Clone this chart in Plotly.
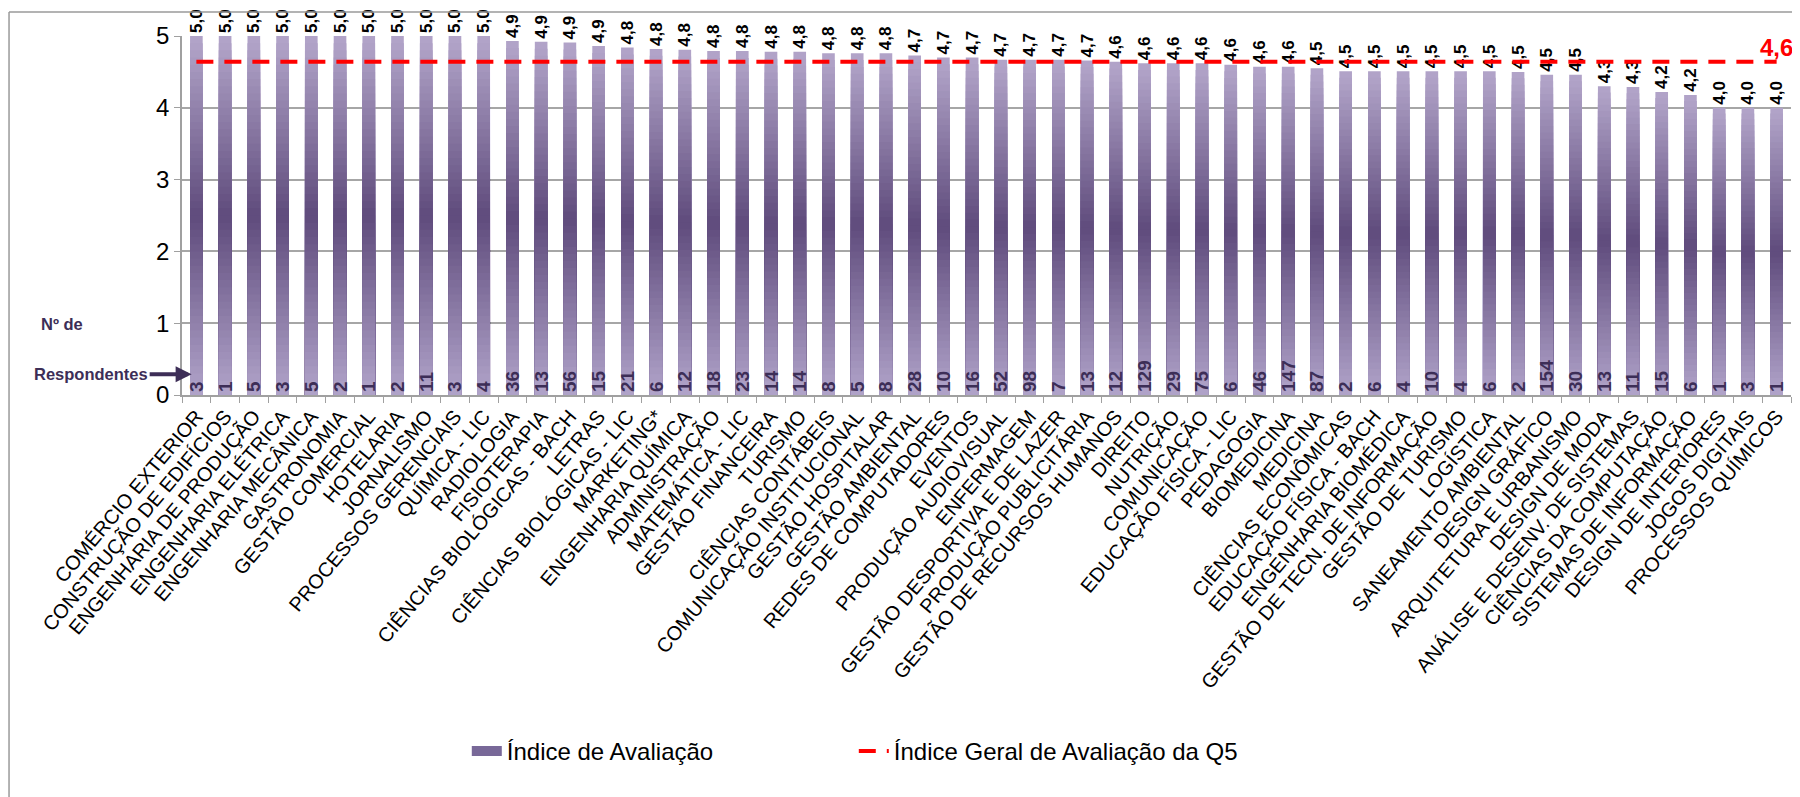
import plotly.graph_objects as go

categories = [
    "COMÉRCIO EXTERIOR", "CONSTRUÇÃO DE EDIFÍCIOS", "ENGENHARIA DE PRODUÇÃO", "ENGENHARIA ELÉTRICA",
    "ENGENHARIA MECÂNICA", "GASTRONOMIA", "GESTÃO COMERCIAL", "HOTELARIA", "JORNALISMO",
    "PROCESSOS GERENCIAIS", "QUÍMICA - LIC", "RADIOLOGIA", "FISIOTERAPIA", "CIÊNCIAS BIOLÓGICAS - BACH",
    "LETRAS", "CIÊNCIAS BIOLÓGICAS - LIC", "MARKETING*", "ENGENHARIA QUÍMICA", "ADMINISTRAÇÃO",
    "MATEMÁTICA - LIC", "GESTÃO FINANCEIRA", "TURISMO", "CIÊNCIAS CONTÁBEIS", "COMUNICAÇÃO INSTITUCIONAL",
    "GESTÃO HOSPITALAR", "GESTÃO AMBIENTAL", "REDES DE COMPUTADORES", "EVENTOS", "PRODUÇÃO AUDIOVISUAL",
    "ENFERMAGEM", "GESTÃO DESPORTIVA E DE LAZER", "PRODUÇÃO PUBLICITÁRIA", "GESTÃO DE RECURSOS HUMANOS",
    "DIREITO", "NUTRIÇÃO", "COMUNICAÇÃO", "EDUCAÇÃO FÍSICA - LIC", "PEDAGOGIA", "BIOMEDICINA",
    "MEDICINA", "CIÊNCIAS ECONÔMICAS", "EDUCAÇÃO FÍSICA - BACH", "ENGENHARIA BIOMÉDICA",
    "GESTÃO DE TECN. DE INFORMAÇÃO", "GESTÃO DE TURISMO", "LOGÍSTICA", "SANEAMENTO AMBIENTAL",
    "DESIGN GRÁFICO", "ARQUITETURA E URBANISMO", "DESIGN DE MODA", "ANÁLISE E DESENV. DE SISTEMAS",
    "CIÊNCIAS DA COMPUTAÇÃO", "SISTEMAS DE INFORMAÇÃO", "DESIGN DE INTERIORES", "JOGOS DIGITAIS",
    "PROCESSOS QUÍMICOS",
]

indice = [
    5.0, 5.0, 5.0, 5.0, 5.0, 5.0, 5.0, 5.0, 5.0, 5.0, 5.0,
    4.93, 4.92, 4.91, 4.86,
    4.84, 4.82, 4.81, 4.79, 4.79, 4.78, 4.78, 4.76, 4.76, 4.76,
    4.73, 4.70, 4.70, 4.67, 4.67, 4.67, 4.66,
    4.64, 4.62, 4.62, 4.62, 4.60, 4.57, 4.57,
    4.55, 4.51, 4.51, 4.51, 4.51, 4.51, 4.51, 4.50, 4.46, 4.46,
    4.30, 4.29, 4.22, 4.18, 4.0, 4.0, 4.0,
]

respondentes = [
    3, 1, 5, 3, 5, 2, 1, 2, 11, 3, 4, 36, 13, 56, 15,
    21, 6, 12, 18, 23, 14, 14, 8, 5, 8, 28, 10, 16, 52, 98, 7, 13, 12, 129, 29, 75,
    6, 46, 147, 87, 2, 6, 4, 10, 4, 6, 2, 154, 30, 13, 11, 15, 6, 1, 3, 1,
]

indice_geral = 4.64

FONT = "Liberation Sans, Arial, sans-serif"
TOP = (180, 167, 203)
MID = (95, 75, 124)
BOT = (177, 164, 202)


def grad(f):
    if f >= 0.5:
        t = (f - 0.5) / 0.5
        a, b = MID, TOP
    else:
        t = f / 0.5
        a, b = BOT, MID
    c = [round(a[i] + (b[i] - a[i]) * t) for i in range(3)]
    return f"rgb({c[0]},{c[1]},{c[2]})"


def fmt(v):
    return f"{v:.1f}".replace(".", ",")


fig = go.Figure()
N = 50
BW = 0.44

fig.add_trace(go.Bar(
    x=categories, y=indice, width=BW, name="Índice de Avaliação",
    marker=dict(color=grad(0.98), line=dict(width=0)),
    text=[fmt(v) for v in indice], textposition="outside", textangle=-90,
    textfont=dict(family=FONT, size=17, color="black", weight="bold"),
    constraintext="none", cliponaxis=False, hoverinfo="skip", showlegend=False,
))
for k in range(N - 1, 0, -1):
    frac = k / N
    fig.add_trace(go.Bar(
        x=categories, y=[v * frac for v in indice], width=BW,
        marker=dict(color=grad((k - 0.5) / N), line=dict(width=0)),
        hoverinfo="skip", showlegend=False,
    ))

fig.add_trace(go.Bar(
    x=categories, y=indice, width=BW, marker=dict(color="rgba(0,0,0,0)", line=dict(width=0)),
    text=[str(r) for r in respondentes], textposition="inside", insidetextanchor="start",
    textangle=-90, constraintext="none",
    textfont=dict(family=FONT, size=19, color="#3d2e57", weight="bold"),
    showlegend=False, hoverinfo="skip",
))

# legend swatch for bars (wide band like the reference)
fig.add_trace(go.Scatter(
    x=[None], y=[None], mode="lines", name="Índice de Avaliação",
    line=dict(color="rgb(120,104,152)", width=16), showlegend=True, hoverinfo="skip",
))

avg_text = [""] * (len(categories) - 1) + [fmt(indice_geral)]
fig.add_trace(go.Scatter(
    x=categories, y=[indice_geral] * len(categories), mode="lines+text",
    line=dict(color="#ff0000", width=4, dash="17px,11px"),
    text=avg_text, textposition="top center",
    textfont=dict(family=FONT, size=24, color="#ff0000", weight="bold"),
    name="Índice Geral de Avaliação da Q5", cliponaxis=False,
))

fig.update_layout(
    width=1800, height=797,
    margin=dict(l=174, r=17, t=28, b=410, autoexpand=False),
    paper_bgcolor="white", plot_bgcolor="white",
    barmode="overlay",
    font=dict(family=FONT, color="black"),
    legend=dict(
        orientation="h", x=0.177, y=-0.993, xanchor="left", yanchor="middle",
        font=dict(size=24, family=FONT), entrywidth=342, entrywidthmode="pixels",
        traceorder="normal",
    ),
    xaxis=dict(
        type="category", range=[-0.5, len(categories) - 0.5],
        tickangle=-50, tickfont=dict(size=20, family=FONT),
        showline=True, linecolor="#a0a0a0", linewidth=1.5,
        ticks="outside", ticklen=6, tickcolor="#a0a0a0", tickson="boundaries",
        showgrid=False, automargin=False,
    ),
    yaxis=dict(
        range=[0, 5], dtick=1, tickfont=dict(size=24, family=FONT),
        showgrid=True, gridcolor="#a6a6a6", gridwidth=1.5,
        showline=True, linecolor="#a0a0a0", linewidth=1.5,
        ticks="outside", ticklen=6, tickcolor="#a0a0a0", zeroline=False,
        automargin=False,
    ),
    annotations=[
        dict(xref="paper", yref="paper", x=-0.089, y=0.198, xanchor="left", yanchor="middle",
             text="<b>Nº de</b>", showarrow=False,
             font=dict(family=FONT, size=16.5, color="#3d2e57")),
        dict(xref="paper", yref="paper", x=0.006, y=0.058, ax=-42, ay=0,
             xanchor="right", yanchor="middle",
             text="<b>Respondentes</b>", showarrow=True, arrowhead=2, arrowsize=0.8,
             arrowwidth=4, arrowcolor="#3d2e57",
             font=dict(family=FONT, size=16.5, color="#3d2e57")),
    ],
    shapes=[
        dict(type="line", xref="paper", yref="paper", x0=-0.1075, x1=-0.1075, y0=1.067, y1=-1.2,
             line=dict(color="#9a9a9a", width=1.5)),
        dict(type="line", xref="paper", yref="paper", x0=-0.1075, x1=1.1, y0=1.067, y1=1.067,
             line=dict(color="#9a9a9a", width=1.5)),
    ],
)

fig.write_html("out.html")
